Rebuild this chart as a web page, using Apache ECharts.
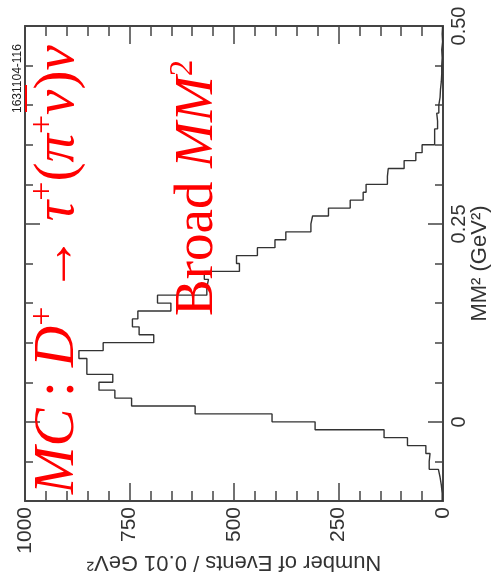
<!DOCTYPE html>
<html><head><meta charset="utf-8">
<script src="https://cdn.jsdelivr.net/npm/echarts@6/dist/echarts.min.js"></script>
<style>html,body{margin:0;padding:0;background:#fff}#c{width:494px;height:586px}</style>
</head><body><div id="c"></div>
<script>
// Bin edges of MM^2 (GeV^2), 0.01 GeV^2 bins
const binEdges = [-0.10,-0.09,-0.08,-0.07,-0.06,-0.05,-0.04,-0.03,-0.02,-0.01,
  0.00,0.01,0.02,0.03,0.04,0.05,0.06,0.07,0.08,0.09,
  0.10,0.11,0.12,0.13,0.14,0.15,0.16,0.17,0.18,0.19,
  0.20,0.21,0.22,0.23,0.24,0.25,0.26,0.27,0.28,0.29,
  0.30,0.31,0.32,0.33,0.34,0.35,0.36,0.37,0.38,0.39,
  0.40,0.41,0.42,0.43,0.44,0.45,0.46,0.47,0.48,0.49,0.50];
// Number of events per bin
const counts = [2,4,7,11,33,31,41,85,141,306,
  409,593,745,785,823,790,852,852,871,813,
  692,727,743,730,651,683,565,561,571,487,
  494,444,402,376,316,312,274,222,191,184,
  133,131,93,65,50,20,20,13,15,10,
  7,6,4,3,3,2,3,1,2,1];
const mmTickValues = [0, 0.25, 0.5];
const mmTickLabels = ['0', '0.25', '0.50'];
const countTickValues = [0, 250, 500, 750, 1000];
const countTickLabels = ['0', '250', '500', '750', '1000'];
const countMin = 0, countMax = 1000, countInterval = 250;
const mmMin = -0.1, mmMax = 0.5, mmInterval = 0.05;

const lineData = [];
for (let i = 0; i < counts.length; i++) {
  lineData.push([counts[i], binEdges[i]]);
  lineData.push([counts[i], binEdges[i + 1]]);
}

const frameColor = '#444';
const sansFont = 'Liberation Sans, Arial, Helvetica, sans-serif';
const serifFont = 'Liberation Serif, Times New Roman, serif';

function mmLabel(v) {
  for (let k = 0; k < mmTickValues.length; k++) {
    if (Math.abs(v - mmTickValues[k]) < 1e-6) return mmTickLabels[k];
  }
  return '';
}
function countLabel(v) {
  for (let k = 0; k < countTickValues.length; k++) {
    if (Math.abs(v - countTickValues[k]) < 1e-6) return countTickLabels[k];
  }
  return '';
}

const countAxisBase = {
  type: 'value', min: countMin, max: countMax, interval: countInterval, inverse: true,
  axisLine: {show: true, onZero: false, lineStyle: {color: frameColor, width: 2}},
  axisTick: {show: true, inside: true, length: 18, lineStyle: {color: frameColor, width: 1.5}},
  minorTick: {show: true, splitNumber: 5, length: 10, lineStyle: {color: frameColor, width: 1.5}},
  splitLine: {show: false}, minorSplitLine: {show: false}
};
const mmAxisBase = {
  type: 'value', min: mmMin, max: mmMax, interval: mmInterval,
  axisLine: {show: true, onZero: false, lineStyle: {color: frameColor, width: 2}},
  axisTick: {show: true, inside: true, length: 8, lineStyle: {color: frameColor, width: 1.5}},
  splitLine: {show: false}
};

const chart = echarts.init(document.getElementById('c'));
chart.setOption({
  animation: false,
  backgroundColor: '#fff',
  grid: {left: 25, right: 51, top: 26, bottom: 85, containLabel: false, outerBoundsMode: 'none'},
  xAxis: [
    Object.assign({}, countAxisBase, {
      position: 'bottom',
      axisLabel: {show: true, rotate: 90, fontSize: 21, color: '#333', margin: 6, fontFamily: sansFont,
        formatter: countLabel, showMinLabel: true, showMaxLabel: true},
      name: 'Number of Events / 0.01 GeV²', nameLocation: 'middle', nameRotate: 180, nameGap: 50,
      nameMoveOverlap: false,
      nameTextStyle: {fontSize: 22, color: '#333', fontFamily: sansFont}
    }),
    Object.assign({}, countAxisBase, {position: 'top', axisLabel: {show: false}})
  ],
  yAxis: [
    Object.assign({}, mmAxisBase, {
      position: 'right',
      axisLabel: {show: true, rotate: 90, fontSize: 20, color: '#333', margin: 6, fontFamily: sansFont,
        formatter: mmLabel, showMinLabel: true, showMaxLabel: true},
      name: 'MM² (GeV²)', nameLocation: 'middle', nameRotate: 90, nameGap: 26,
      nameMoveOverlap: false,
      nameTextStyle: {fontSize: 22, color: '#333', fontFamily: sansFont}
    }),
    Object.assign({}, mmAxisBase, {
      position: 'right', axisLine: {show: false, onZero: false},
      axisTick: {show: true, inside: true, length: 15, customValues: mmTickValues, lineStyle: {color: frameColor, width: 1.5}},
      axisLabel: {show: false}
    }),
    Object.assign({}, mmAxisBase, {position: 'left', axisLabel: {show: false}}),
    Object.assign({}, mmAxisBase, {
      position: 'left', axisLine: {show: false, onZero: false},
      axisTick: {show: true, inside: true, length: 15, customValues: mmTickValues, lineStyle: {color: frameColor, width: 1.5}},
      axisLabel: {show: false}
    })
  ],
  series: [{
    type: 'line', xAxisIndex: 0, yAxisIndex: 0, data: lineData,
    symbol: 'none', showSymbol: false, clip: true,
    lineStyle: {color: '#333', width: 1.4}, z: 3
  }],
  graphic: [
    {
      type: 'text', x: 24, y: 113, rotation: Math.PI / 2, z: 10,
      style: {text: '1631104-116', font: '12px ' + sansFont, fill: '#222', textAlign: 'left', textVerticalAlign: 'bottom'}
    },
    {
      type: 'line', z: 10,
      shape: {x1: 26, y1: 85, x2: 26, y2: 112},
      style: {stroke: '#f00', lineWidth: 2}
    },
    {
      type: 'text', x: 90, y: 494, rotation: Math.PI / 2, z: 10,
      style: {
        text: '{i|MC}{n|\u2009: }{i|D}{s|+}{n| \u2192 }{i|τ}{s|+}{n|(}{i|π}{s|+}{i|ν}{n|)}{i|ν}',
        fill: '#f00', textAlign: 'left', textVerticalAlign: 'bottom',
        rich: {
          i: {fontSize: 57, fontStyle: 'italic', fontFamily: serifFont, fill: '#f00', lineHeight: 64},
          n: {fontSize: 57, fontFamily: serifFont, fill: '#f00', lineHeight: 64},
          s: {fontSize: 34, fontFamily: serifFont, fill: '#f00', verticalAlign: 'top', lineHeight: 34}
        }
      }
    },
    {
      type: 'text', x: 229, y: 316, rotation: Math.PI / 2, z: 10,
      style: {
        text: '{n|Broad }{i|MM}{s|2}',
        fill: '#f00', textAlign: 'left', textVerticalAlign: 'bottom',
        rich: {
          i: {fontSize: 55, fontStyle: 'italic', fontFamily: serifFont, fill: '#f00', lineHeight: 62},
          n: {fontSize: 55, fontFamily: serifFont, fill: '#f00', lineHeight: 62},
          s: {fontSize: 33, fontFamily: serifFont, fill: '#f00', verticalAlign: 'top', lineHeight: 33}
        }
      }
    }
  ]
});
</script></body></html>
